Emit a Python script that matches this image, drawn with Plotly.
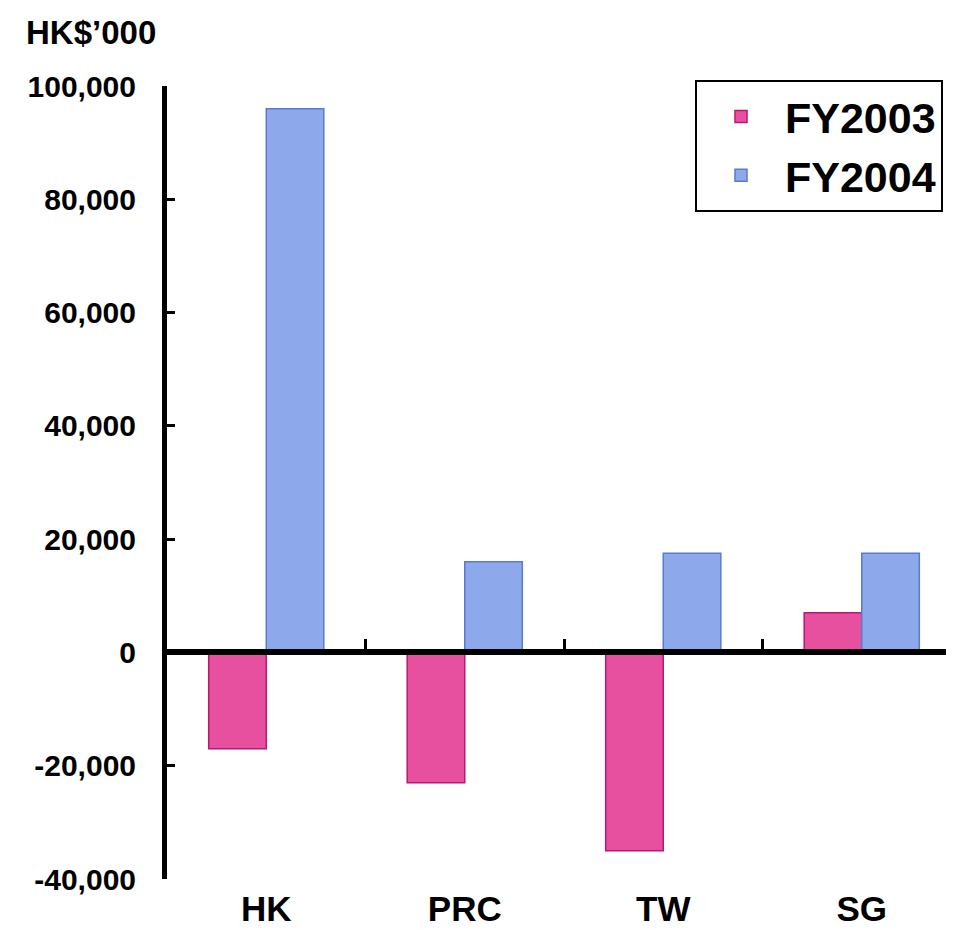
import plotly.graph_objects as go

categories = ["HK", "PRC", "TW", "SG"]
fy2003 = [-17000, -23000, -35000, 7000]
fy2004 = [96000, 16000, 17500, 17500]
y_ticks = [-40000, -20000, 0, 20000, 40000, 60000, 80000, 100000]
y_tick_labels = ["-40,000", "-20,000", "0", "20,000", "40,000", "60,000", "80,000", "100,000"]

FONT = "Liberation Sans, Arial, sans-serif"
W, H = 954, 930
L, R, T, B = 159, 1, 78, 59
ymin, ymax = -40000, 100000
PW, PH = W - L - R, H - T - B

fig = go.Figure()
fig.add_trace(go.Bar(
    x=categories, y=fy2003, name="<b>FY2003</b>",
    marker=dict(color="#E6509E", line=dict(color="#B81870", width=1.5)),
))
fig.add_trace(go.Bar(
    x=categories, y=fy2004, name="<b>FY2004</b>",
    marker=dict(color="#8DA9EC", line=dict(color="#5A7BCB", width=1.5)),
))
# invisible helper trace for the axis drawn at zero
fig.add_trace(go.Scatter(
    x=categories, y=[0] * len(categories), mode="none",
    xaxis="x2", showlegend=False, hoverinfo="skip",
))

fig.update_layout(
    width=W, height=H,
    margin=dict(l=L, r=R, t=T, b=B, autoexpand=False),
    paper_bgcolor="white", plot_bgcolor="white",
    barmode="group", bargap=0.42, bargroupgap=0,
    font=dict(family=FONT, color="black"),
    title=dict(
        text="<b>HK$’000</b>", xref="container", yref="container",
        x=18 / W, xanchor="left", y=1 - 13 / H, yanchor="top",
        font=dict(size=33, family=FONT, color="black"),
    ),
    xaxis=dict(
        type="category", categoryorder="array", categoryarray=categories,
        range=[-0.5, 3.5], showline=False, showgrid=False, zeroline=False,
        ticks="", tickfont=dict(size=35, family=FONT, color="black"),
        tickprefix="<b>", ticksuffix="</b>", ticklabelstandoff=6,
        automargin=False,
    ),
    xaxis2=dict(
        type="category", categoryorder="array", categoryarray=categories,
        range=[-0.5, 3.5], overlaying="x", anchor="free",
        position=(0 - ymin) / (ymax - ymin),
        showline=True, linecolor="black", linewidth=6,
        showgrid=False, zeroline=False, showticklabels=False,
        ticks="inside", tickson="boundaries", ticklen=10, tickwidth=3,
        tickcolor="black", automargin=False,
    ),
    yaxis=dict(
        range=[ymin, ymax], tickvals=y_ticks, ticktext=[f"<b>{t}</b>" for t in y_tick_labels],
        showline=True, linecolor="black", linewidth=5, showgrid=False,
        zeroline=False, ticks="inside", ticklen=8, tickwidth=3, tickcolor="black",
        tickfont=dict(size=30, family=FONT, color="black"), ticklabelstandoff=20,
        automargin=False,
    ),
    legend=dict(
        x=(687 - L) / PW, xanchor="left",
        y=1 + (T - 72) / PH, yanchor="top",
        bordercolor="black", borderwidth=2, bgcolor="white",
        font=dict(size=43, family=FONT, color="black"),
        itemwidth=78,
    ),
    showlegend=True,
)

fig.write_html("out.html")
